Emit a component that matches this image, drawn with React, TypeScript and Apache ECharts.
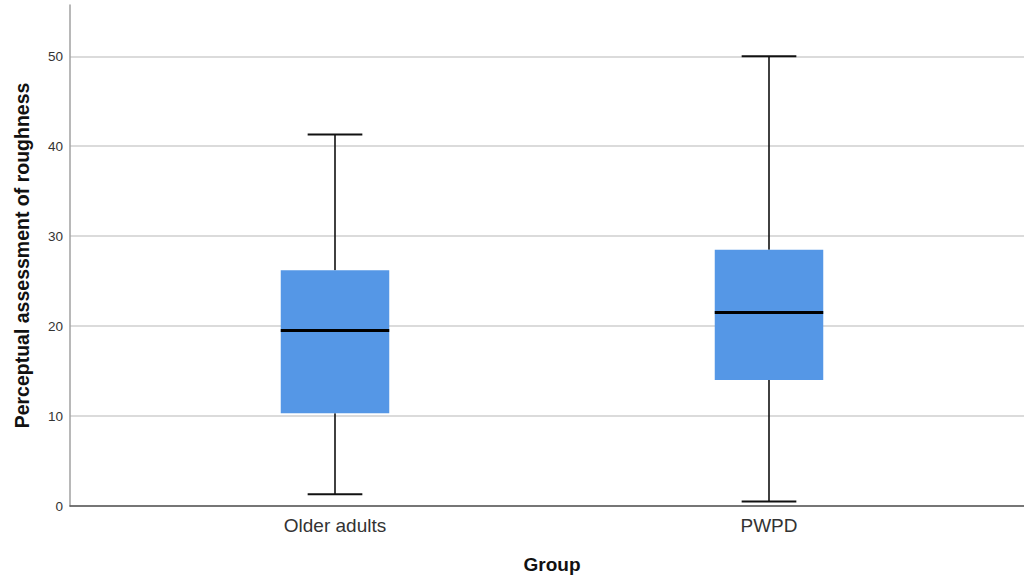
import React, { useEffect, useRef } from "react";
import * as echarts from "echarts";

const categories = ["Older adults", "PWPD"];
const minValues = [1.3, 0.5];
const q1Values = [10.3, 14.0];
const medianValues = [19.5, 21.5];
const q3Values = [26.2, 28.5];
const maxValues = [41.3, 50.0];

const yTicks = { min: 0, max: 55.7, interval: 10 };

const FONT = "'Liberation Sans', Arial, sans-serif";

export default function App() {
  const ref = useRef<HTMLDivElement>(null);
  useEffect(() => {
    if (!ref.current) return;
    const chart = echarts.init(ref.current, null, { renderer: "svg" });
    const boxData = categories.map((_, i) => [
      i,
      minValues[i],
      q1Values[i],
      medianValues[i],
      q3Values[i],
      maxValues[i],
    ]);
    chart.setOption({
      animation: false,
      backgroundColor: "#ffffff",
      grid: [
        { left: 70, right: 0, top: 5, bottom: 73 },
        { left: 118, right: 38, top: 5, bottom: 73 },
      ],
      xAxis: [
        {
          gridIndex: 0,
          type: "value",
          min: 0,
          max: 1,
          axisLine: { show: true, lineStyle: { color: "#555555", width: 1.5 } },
          axisTick: { show: false },
          axisLabel: { show: false },
          splitLine: { show: false },
        },
        {
          gridIndex: 1,
          type: "category",
          data: categories,
          axisLine: { show: false },
          axisTick: { show: false },
          axisLabel: {
            fontFamily: FONT,
            fontSize: 19,
            color: "#333333",
            margin: 10,
          },
          name: "Group",
          nameLocation: "middle",
          nameGap: 49,
          nameTextStyle: {
            fontFamily: FONT,
            fontSize: 19,
            fontWeight: "bold",
            color: "#111111",
          },
        },
      ],
      yAxis: [
        {
          gridIndex: 0,
          type: "value",
          min: yTicks.min,
          max: yTicks.max,
          interval: yTicks.interval,
          axisLine: { show: true, lineStyle: { color: "#a0a0a0", width: 1.5 } },
          axisTick: { show: false },
          axisLabel: {
            fontFamily: FONT,
            fontSize: 13.5,
            color: "#333333",
            margin: 7,
            showMaxLabel: false,
          },
          splitLine: {
            show: true,
            showMaxLine: false,
            lineStyle: { color: "#cfcfcf", width: 1.5 },
          },
          name: "Perceptual assessment of roughness",
          nameLocation: "middle",
          nameGap: 38,
          nameTextStyle: {
            fontFamily: FONT,
            fontSize: 19.5,
            fontWeight: "bold",
            color: "#111111",
          },
        },
        {
          gridIndex: 1,
          type: "value",
          min: yTicks.min,
          max: yTicks.max,
          show: false,
        },
      ],
      series: [
        {
          type: "custom",
          xAxisIndex: 1,
          yAxisIndex: 1,
          data: boxData,
          encode: { x: 0, y: [1, 2, 3, 4, 5] },
          renderItem: (params: any, api: any) => {
            const xi = api.value(0);
            const band = api.size([1, 0])[0];
            const bw = band * 0.25;
            const cw = band * 0.126;
            const pMin = api.coord([xi, api.value(1)]);
            const pQ1 = api.coord([xi, api.value(2)]);
            const pMed = api.coord([xi, api.value(3)]);
            const pQ3 = api.coord([xi, api.value(4)]);
            const pMax = api.coord([xi, api.value(5)]);
            const cx = pMin[0];
            const lineStyle = { stroke: "#111111", lineWidth: 1.6 };
            return {
              type: "group",
              children: [
                {
                  type: "line",
                  shape: { x1: cx, y1: pMax[1], x2: cx, y2: pQ3[1] },
                  style: lineStyle,
                },
                {
                  type: "line",
                  shape: { x1: cx, y1: pQ1[1], x2: cx, y2: pMin[1] },
                  style: lineStyle,
                },
                {
                  type: "line",
                  shape: { x1: cx - cw / 2, y1: pMax[1], x2: cx + cw / 2, y2: pMax[1] },
                  style: { stroke: "#111111", lineWidth: 2 },
                },
                {
                  type: "line",
                  shape: { x1: cx - cw / 2, y1: pMin[1], x2: cx + cw / 2, y2: pMin[1] },
                  style: { stroke: "#111111", lineWidth: 2 },
                },
                {
                  type: "rect",
                  shape: { x: cx - bw / 2, y: pQ3[1], width: bw, height: pQ1[1] - pQ3[1] },
                  style: { fill: "#5597e6" },
                },
                {
                  type: "line",
                  shape: { x1: cx - bw / 2, y1: pMed[1], x2: cx + bw / 2, y2: pMed[1] },
                  style: { stroke: "#000000", lineWidth: 3 },
                },
              ],
            };
          },
        },
      ],
    });
    return () => chart.dispose();
  }, []);
  return (
    <div
      ref={ref}
      style={{ position: "fixed", left: 0, top: 0, width: 1024, height: 579 }}
    />
  );
}
